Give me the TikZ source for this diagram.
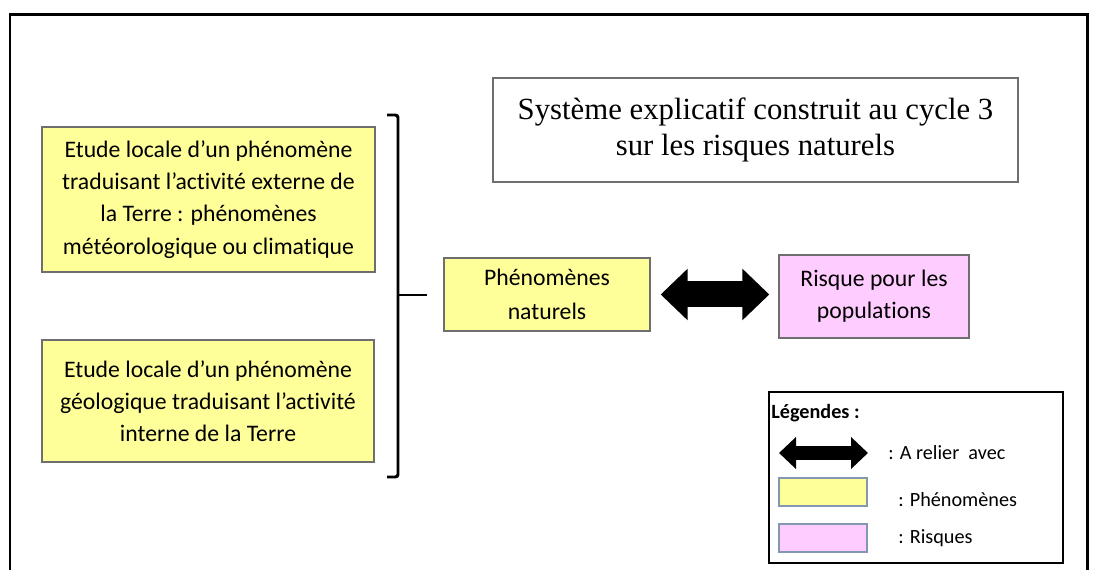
\documentclass[tikz,border=0pt]{standalone}
\usepackage{fontspec}
\setmainfont{Carlito}[Ligatures=NoCommon]
\newfontfamily\timesfont{Liberation Serif}
\usetikzlibrary{arrows.meta}
\definecolor{phenyellow}{RGB}{255,255,153}
\definecolor{risquepink}{RGB}{255,204,255}
\definecolor{boxgray}{RGB}{110,110,110}
\definecolor{swatchblue}{RGB}{132,151,176}

\begin{document}
\begin{tikzpicture}[x=0.02cm, y=-0.02cm,
		phenbox/.style={draw=boxgray, line width=0.8pt, fill=phenyellow, align=center, inner sep=0pt, font=\fontsize{13.5}{18.3}\selectfont},
		risquebox/.style={phenbox, fill=risquepink},
		titlebox/.style={draw=boxgray, line width=0.7pt, align=center, inner sep=0pt, font=\timesfont\fontsize{17.5}{21}\selectfont},
		swatch/.style={draw=swatchblue, line width=0.6pt, minimum width=1.76cm, minimum height=0.56cm, inner sep=0pt},
		brace/.style={line width=1.7pt, rounded corners=1.5pt},
		bigarrow/.style={line width=0.52cm, {Triangle[length=0.54cm,width=1cm]}-{Triangle[length=0.54cm,width=1cm]}},
		smallarrow/.style={line width=0.28cm, {Triangle[length=0.34cm,width=0.62cm]}-{Triangle[length=0.34cm,width=0.62cm]}},
		legtext/.style={anchor=west, inner sep=0pt, font=\fontsize{11.5}{14}\selectfont}]
		\useasboundingbox (0,0) rectangle (1096,570);

		\draw[line width=1.7pt] (10,570) -- (10,15) -- (1087,15) -- (1087,570);

		\node[titlebox, minimum width=10.5cm, minimum height=2.08cm] (titre) at (755.5,130)
			{Système explicatif construit au cycle 3\\sur les risques naturels};

		\node[phenbox, minimum width=6.66cm, minimum height=2.9cm] (externe) at (208.5,199.5)
			{Etude locale d’un phénomène\\traduisant l’activité externe de\\la Terre : phénomènes\\météorologique ou climatique};
		\node[phenbox, minimum width=6.64cm, minimum height=2.44cm] (interne) at (208,401)
			{Etude locale d’un phénomène\\géologique traduisant l’activité\\interne de la Terre};

		\draw[brace] (387,115) -- (398,115) -- (398,477) -- (387,477);
		\coordinate (bmid) at (398,295);

		\node[phenbox, minimum width=4.12cm, minimum height=1.46cm] (phen) at (547,294.5) {Phénomènes\\[1pt]naturels};
		\node[risquebox, minimum width=3.8cm, minimum height=1.66cm] (risque) at (874,296.5) {Risque pour les\\populations};

		\draw[brace] (bmid) -- (bmid -| phen.west) [shorten >=0.32cm];
		\draw[bigarrow, shorten <=0.2cm, shorten >=0.18cm] (phen.east) -- (phen.east -| risque.west);

		\node[draw, line width=1.1pt, minimum width=5.88cm, minimum height=3.42cm] (legende) at (916,477.5) {};
		\node[legtext, font=\bfseries\fontsize{11.5}{14}\selectfont] (legtitre) at (771,413) {Légendes :};
		\coordinate (legA) at (779,453);
		\coordinate (legB) at (868,453);
		\draw[smallarrow] (legA) -- (legB);
		\node[legtext] (legrelier) at (888,453) {: A relier~ avec};
		\node[swatch, fill=phenyellow] (legjaune) at (823,492) {};
		\node[legtext] (legphen) at (898,500) {: Phénomènes};
		\node[swatch, fill=risquepink] (legrose) at (823,538) {};
		\node[legtext] (legrisque) at (898,538) {: Risques};
	\end{tikzpicture}
\end{document}
